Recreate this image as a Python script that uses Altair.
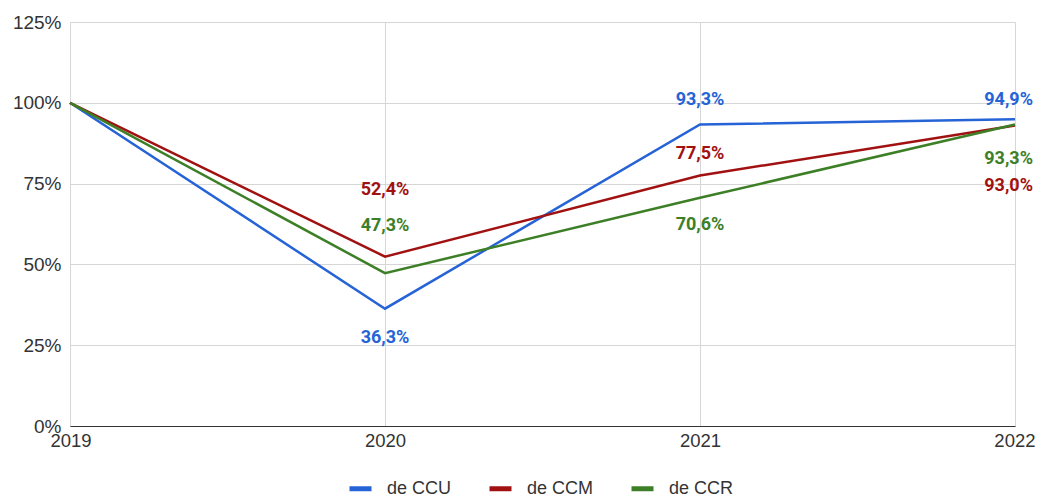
import altair as alt
import pandas as pd

years = [2019, 2020, 2021, 2022]
series = ["de CCU", "de CCM", "de CCR"]
ccu = [100.0, 36.3, 93.3, 94.9]
ccm = [100.0, 52.4, 77.5, 93.0]
ccr = [100.0, 47.3, 70.6, 93.3]
# label offsets (in percentage points) relative to each point, 2019 has no label
ccu_shift = [None, -9.1, 7.6, 6.0]
ccm_shift = [None, 20.6, 6.7, -18.7]
ccr_shift = [None, 14.6, -8.4, -10.7]
colors = ["#2563d6", "#a11111", "#3d7f26"]

rows = []
for name, vals, shifts in zip(series, [ccu, ccm, ccr], [ccu_shift, ccm_shift, ccr_shift]):
    for y, v, s in zip(years, vals, shifts):
        rows.append({"year": y, "series": name, "value": v,
                     "label_y": (v + s) if s is not None else None,
                     "has_label": s is not None})
df = pd.DataFrame(rows)

AXFONT = "Liberation Sans"
LBFONT = "Roboto"
color_scale = alt.Scale(domain=series, range=colors)

base = alt.Chart(df)

x_enc = alt.X("year:Q",
              scale=alt.Scale(domain=[2019, 2022], nice=False, zero=False),
              axis=alt.Axis(values=years, format="d", title=None, grid=True,
                            gridColor="#d6d6d6", tickSize=0, labelPadding=5,
                            domainColor="#333333", labelFont=AXFONT, labelFontSize=18.5,
                            labelColor="#333333", labelFlush=True,
                            labelFlushOffset=20))

lines = base.mark_line(strokeWidth=2.5).encode(
    x=x_enc,
    y=alt.Y("value:Q", scale=alt.Scale(domain=[0, 125], nice=False),
            axis=alt.Axis(values=[0, 25, 50, 75, 100, 125], title=None,
                          labelExpr="datum.value + '%'", gridColor="#d6d6d6",
                          domain=False, tickSize=0, labelPadding=9,
                          labelFont=AXFONT, labelFontSize=19, labelColor="#333333")),
    color=alt.Color("series:N", scale=color_scale, sort=series,
                    legend=alt.Legend(orient="none", legendX=277, legendY=453,
                                      direction="horizontal", title=None,
                                      symbolType="stroke",
                                      symbolStrokeWidth=5, symbolSize=484,
                                      labelOffset=13,
                                      labelFont=AXFONT, labelFontSize=18,
                                      labelColor="#333333", columnPadding=27)),
)

lab = base.transform_filter("datum.has_label").transform_calculate(
    txt="replace(format(datum.value, '.1f'), '.', ',') + '%'"
)

labels_mid = lab.transform_filter("datum.year < 2022").mark_text(
    font=LBFONT, fontSize=18, fontWeight="bold", align="center", baseline="middle"
).encode(
    x="year:Q", y="label_y:Q",
    text="txt:N",
    color=alt.Color("series:N", scale=color_scale, legend=None),
)

labels_end = lab.transform_filter("datum.year == 2022").mark_text(
    font=LBFONT, fontSize=18, fontWeight="bold", align="right", baseline="middle", dx=18
).encode(
    x="year:Q", y="label_y:Q",
    text="txt:N",
    color=alt.Color("series:N", scale=color_scale, legend=None),
)

chart = alt.layer(lines, labels_mid, labels_end).properties(
    width=945, height=404,
    autosize=alt.AutoSizeParams(type="none"),
    padding={"left": 62, "top": 14, "right": 20, "bottom": 71},
).configure_view(stroke=None)

chart.save("out.html", embed_options={"renderer": "svg", "actions": False})
